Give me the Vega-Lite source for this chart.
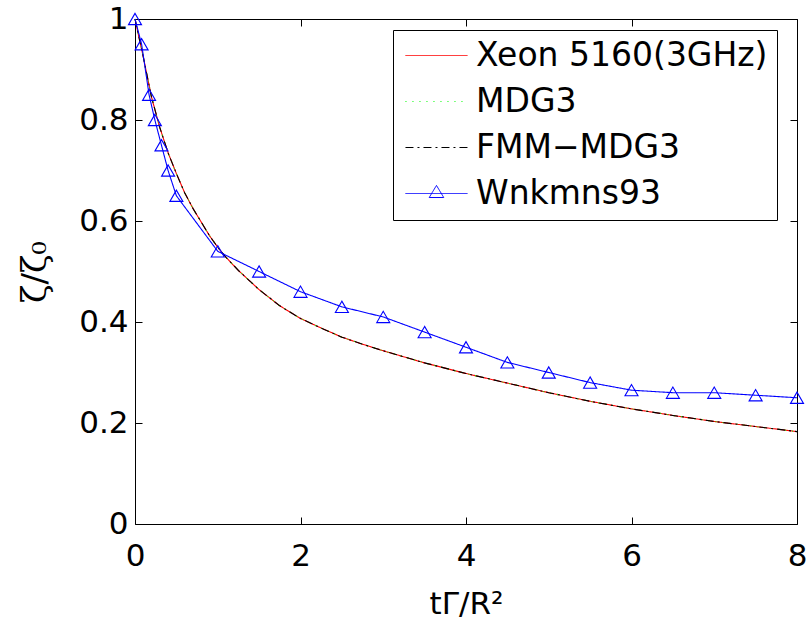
{
  "$schema": "https://vega.github.io/schema/vega-lite/v6.json",
  "width": 662,
  "height": 505,
  "autosize": "none",
  "padding": {"left": 135, "top": 19, "right": 14, "bottom": 99},
  "background": "white",
  "view": {"stroke": null},
  "config": {
    "font": "DejaVu Sans",
    "axis": {
      "domainColor": "black", "tickColor": "black", "labelColor": "black", "titleColor": "black",
      "labelFont": "DejaVu Sans", "titleFont": "DejaVu Sans", "labelFontSize": 31, "titleFontSize": 31,
      "titleFontWeight": "normal", "tickSize": -7, "grid": false, "domainWidth": 1, "tickWidth": 1, "labelFlush": false
    }
  },
  "data": {
    "values": [
      {"s": "Xeon 5160(3GHz)", "x": 0, "y": 1.0}, {"s": "Xeon 5160(3GHz)", "x": 0.05, "y": 0.962}, {"s": "Xeon 5160(3GHz)", "x": 0.1, "y": 0.925}, {"s": "Xeon 5160(3GHz)", "x": 0.15, "y": 0.885}, {"s": "Xeon 5160(3GHz)", "x": 0.2, "y": 0.845}, {"s": "Xeon 5160(3GHz)", "x": 0.3, "y": 0.785}, {"s": "Xeon 5160(3GHz)", "x": 0.4, "y": 0.735}, {"s": "Xeon 5160(3GHz)", "x": 0.5, "y": 0.694}, {"s": "Xeon 5160(3GHz)", "x": 0.6, "y": 0.656}, {"s": "Xeon 5160(3GHz)", "x": 0.7, "y": 0.625}, {"s": "Xeon 5160(3GHz)", "x": 0.8, "y": 0.598}, {"s": "Xeon 5160(3GHz)", "x": 0.9, "y": 0.571}, {"s": "Xeon 5160(3GHz)", "x": 1.0, "y": 0.548}, {"s": "Xeon 5160(3GHz)", "x": 1.1, "y": 0.528}, {"s": "Xeon 5160(3GHz)", "x": 1.25, "y": 0.502}, {"s": "Xeon 5160(3GHz)", "x": 1.5, "y": 0.464}, {"s": "Xeon 5160(3GHz)", "x": 1.75, "y": 0.432}, {"s": "Xeon 5160(3GHz)", "x": 2.0, "y": 0.407}, {"s": "Xeon 5160(3GHz)", "x": 2.25, "y": 0.388}, {"s": "Xeon 5160(3GHz)", "x": 2.5, "y": 0.37}, {"s": "Xeon 5160(3GHz)", "x": 2.75, "y": 0.356}, {"s": "Xeon 5160(3GHz)", "x": 3.0, "y": 0.343}, {"s": "Xeon 5160(3GHz)", "x": 3.5, "y": 0.319}, {"s": "Xeon 5160(3GHz)", "x": 4.0, "y": 0.298}, {"s": "Xeon 5160(3GHz)", "x": 4.5, "y": 0.279}, {"s": "Xeon 5160(3GHz)", "x": 5.0, "y": 0.26}, {"s": "Xeon 5160(3GHz)", "x": 5.5, "y": 0.243}, {"s": "Xeon 5160(3GHz)", "x": 6.0, "y": 0.228}, {"s": "Xeon 5160(3GHz)", "x": 6.5, "y": 0.215}, {"s": "Xeon 5160(3GHz)", "x": 7.0, "y": 0.203}, {"s": "Xeon 5160(3GHz)", "x": 7.5, "y": 0.193}, {"s": "Xeon 5160(3GHz)", "x": 8.0, "y": 0.183},
      {"s": "MDG3", "x": 0, "y": 1.0}, {"s": "MDG3", "x": 0.05, "y": 0.962}, {"s": "MDG3", "x": 0.1, "y": 0.925}, {"s": "MDG3", "x": 0.15, "y": 0.885}, {"s": "MDG3", "x": 0.2, "y": 0.845}, {"s": "MDG3", "x": 0.3, "y": 0.785}, {"s": "MDG3", "x": 0.4, "y": 0.735}, {"s": "MDG3", "x": 0.5, "y": 0.694}, {"s": "MDG3", "x": 0.6, "y": 0.656}, {"s": "MDG3", "x": 0.7, "y": 0.625}, {"s": "MDG3", "x": 0.8, "y": 0.598}, {"s": "MDG3", "x": 0.9, "y": 0.571}, {"s": "MDG3", "x": 1.0, "y": 0.548}, {"s": "MDG3", "x": 1.1, "y": 0.528}, {"s": "MDG3", "x": 1.25, "y": 0.502}, {"s": "MDG3", "x": 1.5, "y": 0.464}, {"s": "MDG3", "x": 1.75, "y": 0.432}, {"s": "MDG3", "x": 2.0, "y": 0.407}, {"s": "MDG3", "x": 2.25, "y": 0.388}, {"s": "MDG3", "x": 2.5, "y": 0.37}, {"s": "MDG3", "x": 2.75, "y": 0.356}, {"s": "MDG3", "x": 3.0, "y": 0.343}, {"s": "MDG3", "x": 3.5, "y": 0.319}, {"s": "MDG3", "x": 4.0, "y": 0.298}, {"s": "MDG3", "x": 4.5, "y": 0.279}, {"s": "MDG3", "x": 5.0, "y": 0.26}, {"s": "MDG3", "x": 5.5, "y": 0.243}, {"s": "MDG3", "x": 6.0, "y": 0.228}, {"s": "MDG3", "x": 6.5, "y": 0.215}, {"s": "MDG3", "x": 7.0, "y": 0.203}, {"s": "MDG3", "x": 7.5, "y": 0.193}, {"s": "MDG3", "x": 8.0, "y": 0.183},
      {"s": "FMM−MDG3", "x": 0, "y": 1.0}, {"s": "FMM−MDG3", "x": 0.05, "y": 0.962}, {"s": "FMM−MDG3", "x": 0.1, "y": 0.925}, {"s": "FMM−MDG3", "x": 0.15, "y": 0.885}, {"s": "FMM−MDG3", "x": 0.2, "y": 0.845}, {"s": "FMM−MDG3", "x": 0.3, "y": 0.785}, {"s": "FMM−MDG3", "x": 0.4, "y": 0.735}, {"s": "FMM−MDG3", "x": 0.5, "y": 0.694}, {"s": "FMM−MDG3", "x": 0.6, "y": 0.656}, {"s": "FMM−MDG3", "x": 0.7, "y": 0.625}, {"s": "FMM−MDG3", "x": 0.8, "y": 0.598}, {"s": "FMM−MDG3", "x": 0.9, "y": 0.571}, {"s": "FMM−MDG3", "x": 1.0, "y": 0.548}, {"s": "FMM−MDG3", "x": 1.1, "y": 0.528}, {"s": "FMM−MDG3", "x": 1.25, "y": 0.502}, {"s": "FMM−MDG3", "x": 1.5, "y": 0.464}, {"s": "FMM−MDG3", "x": 1.75, "y": 0.432}, {"s": "FMM−MDG3", "x": 2.0, "y": 0.407}, {"s": "FMM−MDG3", "x": 2.25, "y": 0.388}, {"s": "FMM−MDG3", "x": 2.5, "y": 0.37}, {"s": "FMM−MDG3", "x": 2.75, "y": 0.356}, {"s": "FMM−MDG3", "x": 3.0, "y": 0.343}, {"s": "FMM−MDG3", "x": 3.5, "y": 0.319}, {"s": "FMM−MDG3", "x": 4.0, "y": 0.298}, {"s": "FMM−MDG3", "x": 4.5, "y": 0.279}, {"s": "FMM−MDG3", "x": 5.0, "y": 0.26}, {"s": "FMM−MDG3", "x": 5.5, "y": 0.243}, {"s": "FMM−MDG3", "x": 6.0, "y": 0.228}, {"s": "FMM−MDG3", "x": 6.5, "y": 0.215}, {"s": "FMM−MDG3", "x": 7.0, "y": 0.203}, {"s": "FMM−MDG3", "x": 7.5, "y": 0.193}, {"s": "FMM−MDG3", "x": 8.0, "y": 0.183},
      {"s": "Wnkmns93", "x": 0, "y": 1.0}, {"s": "Wnkmns93", "x": 0.08, "y": 0.95}, {"s": "Wnkmns93", "x": 0.17, "y": 0.85}, {"s": "Wnkmns93", "x": 0.24, "y": 0.8}, {"s": "Wnkmns93", "x": 0.32, "y": 0.75}, {"s": "Wnkmns93", "x": 0.4, "y": 0.7}, {"s": "Wnkmns93", "x": 0.5, "y": 0.65}, {"s": "Wnkmns93", "x": 1.0, "y": 0.54}, {"s": "Wnkmns93", "x": 1.5, "y": 0.5}, {"s": "Wnkmns93", "x": 2.0, "y": 0.46}, {"s": "Wnkmns93", "x": 2.5, "y": 0.43}, {"s": "Wnkmns93", "x": 3.0, "y": 0.41}, {"s": "Wnkmns93", "x": 3.5, "y": 0.38}, {"s": "Wnkmns93", "x": 4.0, "y": 0.35}, {"s": "Wnkmns93", "x": 4.5, "y": 0.32}, {"s": "Wnkmns93", "x": 5.0, "y": 0.3}, {"s": "Wnkmns93", "x": 5.5, "y": 0.28}, {"s": "Wnkmns93", "x": 6.0, "y": 0.265}, {"s": "Wnkmns93", "x": 6.5, "y": 0.26}, {"s": "Wnkmns93", "x": 7.0, "y": 0.26}, {"s": "Wnkmns93", "x": 7.5, "y": 0.255}, {"s": "Wnkmns93", "x": 8.0, "y": 0.25}
    ]
  },
  "layer": [
    {
      "mark": {"type": "line", "strokeWidth": 1.1},
      "encoding": {
        "x": {"field": "x", "type": "quantitative", "scale": {"domain": [0, 8], "nice": false},
              "axis": {"values": [0, 2, 4, 6, 8], "title": "tΓ/R²", "labelPadding": 24, "titlePadding": 18}},
        "y": {"field": "y", "type": "quantitative", "scale": {"domain": [0, 1], "nice": false},
              "axis": {"values": [0, 0.2, 0.4, 0.6, 0.8, 1], "format": ".1~f", "title": "ζ/ζ₀", "labelPadding": 14, "titlePadding": 26, "titleFont": "DejaVu Serif", "titleFontSize": 34}},
        "color": {
          "field": "s", "type": "nominal",
          "scale": {"domain": ["Xeon 5160(3GHz)", "MDG3", "FMM−MDG3", "Wnkmns93"], "range": ["#ff0000", "#00ff00", "#000000", "#0000ff"]},
          "legend": {
            "title": null, "orient": "none", "legendX": 258, "legendY": 11, "direction": "vertical",
            "symbolType": "M-0.84,0H3.16", "symbolSize": 961, "symbolStrokeWidth": 1,
            "labelFont": "DejaVu Sans", "labelFontSize": 33, "labelColor": "black", "labelOffset": 41, "labelLimit": 500,
            "rowPadding": 12, "padding": 9, "strokeColor": "black", "fillColor": "white",
            "encode": {"symbols": {"update": {
              "shape": {"signal": "datum.value === 'Wnkmns93' ? 'M-0.84,0H3.16M0.69,0.26L1.16,-0.52L1.63,0.26Z' : 'M-0.84,0H3.16'"},
              "strokeDash": {"signal": "datum.value === 'MDG3' ? [1,6] : datum.value === 'FMM−MDG3' ? [8,4,2,4] : [1,0]"},
              "stroke": {"signal": "datum.value === 'Xeon 5160(3GHz)' ? '#ff0000' : datum.value === 'MDG3' ? '#00ff00' : datum.value === 'FMM−MDG3' ? '#000000' : '#0000ff'"},
              "strokeOpacity": {"value": 1},
              "opacity": {"value": 1},
              "fill": {"value": "transparent"}
            }}}
          }
        },
        "strokeDash": {
          "field": "s", "type": "nominal", "legend": null,
          "scale": {"domain": ["Xeon 5160(3GHz)", "MDG3", "FMM−MDG3", "Wnkmns93"], "range": [[1, 0], [1, 6], [8, 4, 2, 4], [1, 0]]}
        }
      }
    },
    {
      "transform": [{"filter": "datum.s === 'Wnkmns93'"}],
      "mark": {"type": "point", "shape": "triangle-up", "filled": false, "size": 170, "strokeWidth": 1.1, "color": "#0000ff", "opacity": 1},
      "encoding": {
        "x": {"field": "x", "type": "quantitative", "axis": {"orient": "top", "values": [0, 2, 4, 6, 8], "labels": false, "title": null}},
        "y": {"field": "y", "type": "quantitative", "axis": {"orient": "right", "values": [0, 0.2, 0.4, 0.6, 0.8, 1], "labels": false, "title": null}}
      }
    }
  ],
  "resolve": {"axis": {"x": "independent", "y": "independent"}}
}
